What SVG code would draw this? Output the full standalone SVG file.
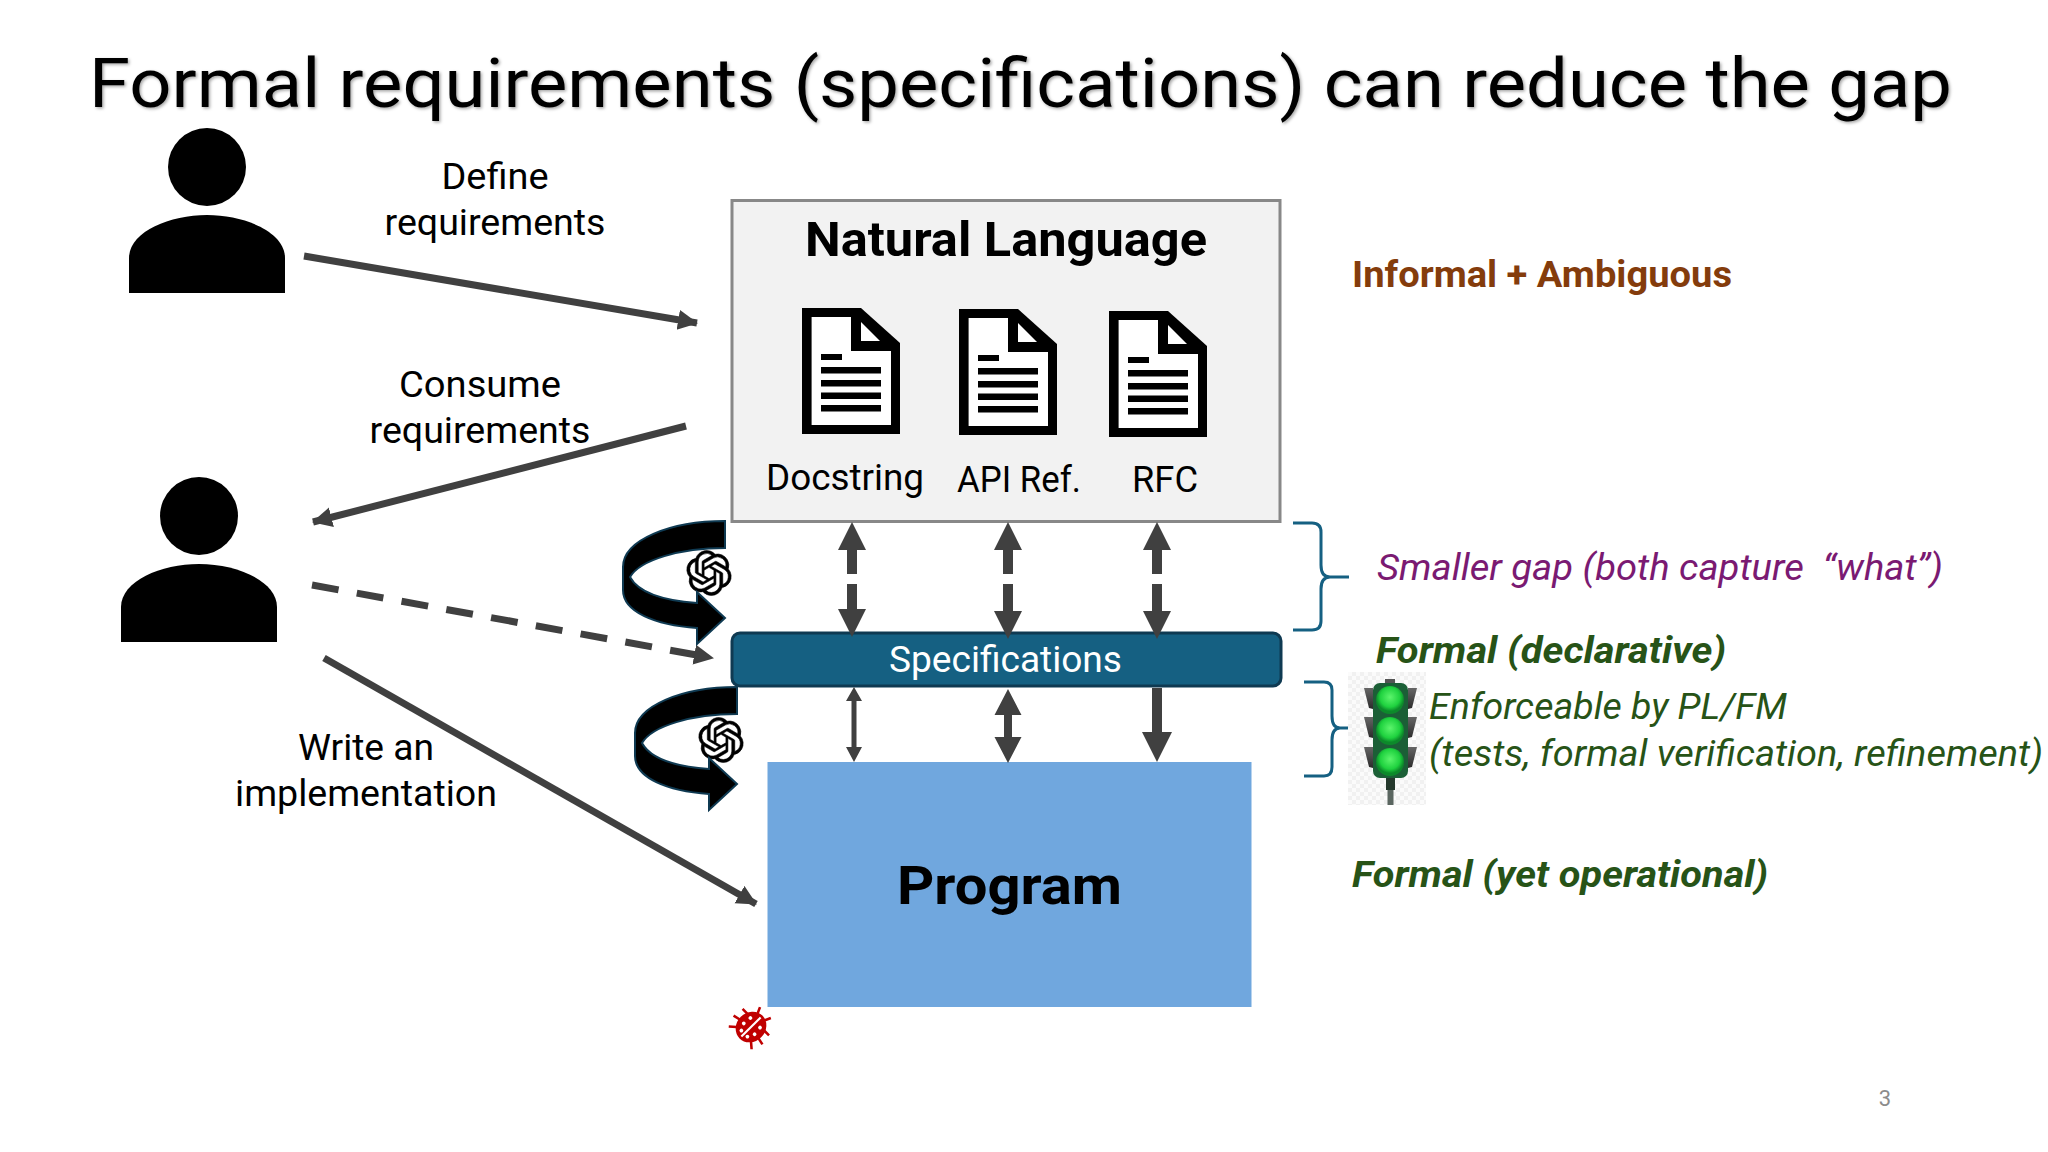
<svg xmlns="http://www.w3.org/2000/svg" width="2048" height="1152" viewBox="0 0 2048 1152">
<style>
text{font-family:"Roboto","Noto Sans","Liberation Sans",sans-serif;fill:#000;white-space:pre}
.t{font-size:36px}
.c{text-anchor:middle}
.r{font-size:36px}
.g{fill:#275317;font-style:italic}
.line{stroke:#404040;stroke-width:7;fill:none}
.brace{stroke:#156082;stroke-width:3;fill:none}
.dk{fill:#404040}
.swirl{fill:#000;stroke:#0f3a52;stroke-width:2}
</style>
<defs>
<marker id="h" markerUnits="userSpaceOnUse" markerWidth="22" markerHeight="22" refX="19" refY="10" orient="auto"><path d="M0,0L20,10L0,20Z" fill="#404040"/></marker>
<filter id="soft" x="-2%" y="-20%" width="104%" height="140%"><feDropShadow dx="1.500" dy="1.500" stdDeviation="1.500" flood-color="#000" flood-opacity="0.350"/></filter>
<pattern id="chk" width="8" height="8" patternUnits="userSpaceOnUse"><rect width="8" height="8" fill="#fbfbfb"/><rect width="4" height="4" fill="#f1f1f1"/><rect x="4" y="4" width="4" height="4" fill="#f1f1f1"/></pattern>
<radialGradient id="lamp" cy="0.400"><stop offset="0" stop-color="#5cf56c"/><stop offset="0.700" stop-color="#1fd23f"/><stop offset="1" stop-color="#0c8a2a"/></radialGradient>
<linearGradient id="hood" x1="0" y1="0" x2="0" y2="1"><stop offset="0" stop-color="#666"/><stop offset="1" stop-color="#2a2a2a"/></linearGradient>
<g id="doc">
<path d="M0,0H59L98,35V126H0Z" fill="#000"/>
<path d="M9.6,9H49V43H89V117H9.6Z" fill="#fff"/>
<path d="M59,14V33H78Z" fill="#fff"/>
<path d="M19,46h21v6H19ZM19,59h60v6.500H19ZM19,72h60v6.500H19ZM19,84.500h60v6.500H19ZM19,97h60v6.500H19Z" fill="#000"/>
</g>
<g id="swirl">
<path class="swirl" d="M725,521C670,521 623,540 623,567L623,590C623,612 655,625 697,628L697,644L725,618L697,592L697,603C655,600 637,590 630,577C640,560 680,548 725,548Z"/>
</g>
<g id="knot">
<circle cx="12" cy="12" r="10.500" fill="#fff"/>
<path fill="#000" stroke="#000" stroke-width="0.300" d="M22.2819 9.8211a5.9847 5.9847 0 0 0-.5157-4.9108 6.0462 6.0462 0 0 0-6.5098-2.9A6.0651 6.0651 0 0 0 4.9807 4.1818a5.9847 5.9847 0 0 0-3.9977 2.9 6.0462 6.0462 0 0 0 .7427 7.0966 5.98 5.98 0 0 0 .511 4.9107 6.051 6.051 0 0 0 6.5146 2.9001A5.9847 5.9847 0 0 0 13.2599 24a6.0557 6.0557 0 0 0 5.7718-4.2058 5.9894 5.9894 0 0 0 3.9977-2.9001 6.0557 6.0557 0 0 0-.7475-7.0729zm-9.022 12.6081a4.4755 4.4755 0 0 1-2.8764-1.0408l.1419-.0804 4.7783-2.7582a.7948.7948 0 0 0 .3927-.6813v-6.7369l2.02 1.1686a.071.071 0 0 1 .038.052v5.5826a4.504 4.504 0 0 1-4.4945 4.4944zm-9.6607-4.1254a4.4708 4.4708 0 0 1-.5346-3.0137l.142.0852 4.783 2.7582a.7712.7712 0 0 0 .7806 0l5.8428-3.3685v2.3324a.0804.0804 0 0 1-.0332.0615L9.74 19.9502a4.4992 4.4992 0 0 1-6.1408-1.6464zM2.3408 7.8956a4.485 4.485 0 0 1 2.3655-1.9728V11.6a.7664.7664 0 0 0 .3879.6765l5.8144 3.3543-2.0201 1.1685a.0757.0757 0 0 1-.071 0l-4.8303-2.7865A4.504 4.504 0 0 1 2.3408 7.872zm16.5963 3.8558L13.1038 8.364 15.1192 7.2a.0757.0757 0 0 1 .071 0l4.8303 2.7913a4.4944 4.4944 0 0 1-.6765 8.1042v-5.6772a.79.79 0 0 0-.407-.667zm2.0107-3.0231l-.142-.0852-4.7735-2.7818a.7759.7759 0 0 0-.7854 0L9.409 9.2297V6.8974a.0662.0662 0 0 1 .0284-.0615l4.8303-2.7866a4.4992 4.4992 0 0 1 6.6802 4.66zM8.3065 12.863l-2.02-1.1638a.0804.0804 0 0 1-.038-.0567V6.0742a4.4992 4.4992 0 0 1 7.3757-3.4537l-.142.0805L8.704 5.459a.7948.7948 0 0 0-.3927.6813zm1.0976-2.3654l2.602-1.4998 2.6069 1.4998v2.9994l-2.5974 1.4997-2.6067-1.4997Z"/>
</g>
<g id="person-shape"><circle cx="78" cy="39" r="39"/><path d="M0,165V130C0,104 40,87 78,87C116,87 156,104 156,130V165Z"/></g>
<path id="hoods" d="M1364,0H1373V21L1369,20Z"/>
</defs>
<rect width="2048" height="1152" fill="#fff"/>
<text id="title" x="89" y="107" font-size="68" textLength="1863" lengthAdjust="spacingAndGlyphs" filter="url(#soft)">Formal requirements (specifications) can reduce the gap</text>

<g id="person-top" transform="translate(129,128)"><use href="#person-shape"/></g>
<g id="person-bottom" transform="translate(121,477)"><use href="#person-shape"/></g>

<g id="natural-language">
<rect x="732" y="200.500" width="548" height="321" fill="#f2f2f2" stroke="#888" stroke-width="3"/>
<text x="1006" y="256" class="c" font-size="48" font-weight="700" textLength="402" lengthAdjust="spacingAndGlyphs">Natural Language</text>
<use href="#doc" x="802" y="308"/>
<use href="#doc" x="959" y="309"/>
<use href="#doc" x="1109" y="311"/>
<text x="766" y="490" class="t" textLength="158" lengthAdjust="spacingAndGlyphs">Docstring</text>
<text x="957" y="492" class="t" textLength="124" lengthAdjust="spacingAndGlyphs">API Ref.</text>
<text x="1132" y="492" class="t" textLength="66" lengthAdjust="spacingAndGlyphs">RFC</text>
</g>

<g id="specifications">
<rect x="732" y="633" width="549" height="53" rx="8" fill="#156082" stroke="#0f3a52" stroke-width="3"/>
<text x="889" y="672" class="t" style="fill:#fff" textLength="233" lengthAdjust="spacingAndGlyphs">Specifications</text>
</g>

<g id="program">
<rect x="767.500" y="762" width="484" height="245" fill="#70a7de"/>
<text x="897" y="904" font-size="54" font-weight="700" textLength="225" lengthAdjust="spacingAndGlyphs">Program</text>
</g>

<g id="connectors">
<line class="line" x1="304" y1="256" x2="697" y2="323" marker-end="url(#h)"/>
<line class="line" x1="686" y1="426" x2="313" y2="522" marker-end="url(#h)"/>
<line class="line" x1="312" y1="585" x2="713" y2="658" stroke-dasharray="27 18.500" marker-end="url(#h)"/>
<line class="line" x1="324" y1="658" x2="756" y2="904" marker-end="url(#h)"/>
<g class="dk">
<path d="M852,522l14,28h-9v24h-10v-24h-9ZM847,584h10v25h9l-14,28l-14,-28h9Z"/>
<path d="M1008,522l14,28h-9v24h-10v-24h-9ZM1003,584h10v27h9l-14,28l-14,-28h9Z"/>
<path d="M1157,522l14,28h-9v24h-10v-24h-9ZM1152,584h10v27h9l-14,28l-14,-28h9Z"/>
<path d="M854,687l8,14h-5.500v46h5.500l-8,15l-8,-15h5.500v-46h-5.500Z"/>
<path d="M1008,689l13.500,26h-9.500v22h9.500l-13.500,26l-13.500,-26h9.500v-22h-9.500Z"/>
<path d="M1152,688h10v44h10l-15,30l-15,-30h10Z"/>
</g>
</g>

<g id="swirl-top"><use href="#knot" transform="translate(686.500,550.500) scale(1.875)"/><use href="#swirl"/></g>
<g id="swirl-bottom"><use href="#knot" transform="translate(698.500,717.500) scale(1.875)"/><use href="#swirl" x="12" y="166"/></g>

<g id="braces">
<path class="brace" d="M1293,523H1312Q1321,523 1321,532V565Q1321,577 1330,577H1349M1330,577Q1321,577 1321,589V621Q1321,630 1312,630H1293"/>
<path class="brace" d="M1304,682H1324Q1332,682 1332,690V716Q1332,728 1340,728H1349M1340,728Q1332,728 1332,740V767Q1332,776 1324,776H1304"/>
</g>

<g id="traffic-light">
<rect x="1348" y="672" width="78" height="133" fill="url(#chk)"/>
<rect x="1387.500" y="778" width="6" height="27" fill="#5a6660"/>
<rect x="1386" y="778" width="9" height="12" fill="#24382c"/>
<rect x="1385" y="679" width="10" height="5" fill="#555"/>
<g fill="url(#hood)">
<use href="#hoods" y="688"/><use href="#hoods" y="717"/><use href="#hoods" y="747"/>
<path d="M1417,688H1408V709L1412,708Z"/><path d="M1417,717H1408V738L1412,737Z"/><path d="M1417,747H1408V768L1412,767Z"/>
</g>
<rect x="1373" y="683" width="35" height="95" rx="7" fill="#1b5f36"/>
<circle cx="1390" cy="700" r="14" fill="url(#lamp)"/>
<circle cx="1390" cy="731" r="14" fill="url(#lamp)"/>
<circle cx="1390" cy="762" r="14" fill="url(#lamp)"/>
</g>

<g id="ladybug" transform="translate(751,1027) rotate(45) scale(0.850)">
<g stroke="#c00000" stroke-width="3" fill="none">
<path d="M-13,-8L-22,-8M13,-8L22,-8M-15,3L-24,5M15,3L24,5M-12,12L-19,18M12,12L19,18M-5,-15L-9,-24M5,-15L9,-24"/>
</g>
<ellipse rx="17" ry="19" fill="#c00000"/>
<line x1="0" y1="-16" x2="0" y2="16" stroke="#fff" stroke-width="2.500"/>
<g fill="#fff"><circle cx="-8" cy="-7" r="2.200"/><circle cx="8" cy="-7" r="2.200"/><circle cx="-9" cy="3" r="2.200"/><circle cx="9" cy="3" r="2.200"/><circle cx="-5" cy="11" r="2.200"/><circle cx="5" cy="11" r="2.200"/></g>
</g>

<g id="labels">
<text x="495" y="189" class="t c" textLength="107" lengthAdjust="spacingAndGlyphs">Define</text>
<text x="495" y="235" class="t c" textLength="221" lengthAdjust="spacingAndGlyphs">requirements</text>
<text x="480" y="397" class="t c" textLength="162" lengthAdjust="spacingAndGlyphs">Consume</text>
<text x="480" y="443" class="t c" textLength="221" lengthAdjust="spacingAndGlyphs">requirements</text>
<text x="366" y="760" class="t c" textLength="136" lengthAdjust="spacingAndGlyphs">Write an</text>
<text x="366" y="806" class="t c" textLength="262" lengthAdjust="spacingAndGlyphs">implementation</text>
<text x="1352" y="287" class="r" font-weight="700" style="fill:#843c0c" textLength="380" lengthAdjust="spacingAndGlyphs">Informal + Ambiguous</text>
<text x="1377" y="580" class="r" font-style="italic" style="fill:#7a1a72" textLength="566" lengthAdjust="spacingAndGlyphs">Smaller gap (both capture  “what”)</text>
<text x="1376" y="663" class="r g" font-weight="700" textLength="350" lengthAdjust="spacingAndGlyphs">Formal (declarative)</text>
<text x="1429" y="719" class="r g" textLength="358" lengthAdjust="spacingAndGlyphs">Enforceable by PL/FM</text>
<text x="1429" y="766" class="r g" textLength="614" lengthAdjust="spacingAndGlyphs">(tests, formal verification, refinement)</text>
<text x="1352" y="887" class="r g" font-weight="700" textLength="416" lengthAdjust="spacingAndGlyphs">Formal (yet operational)</text>
<text x="1885" y="1106" class="c" font-size="22" style="fill:#8c8c8c">3</text>
</g>
</svg>
